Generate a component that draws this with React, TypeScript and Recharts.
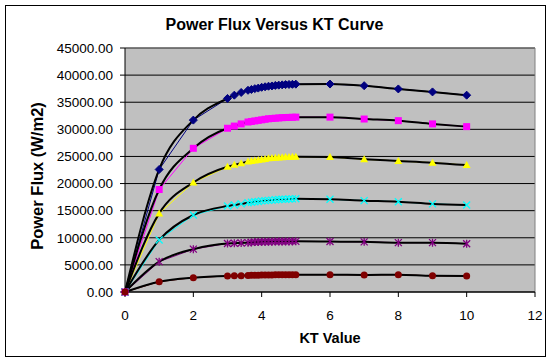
import { ComposedChart, Line, XAxis, YAxis, CartesianGrid, ReferenceLine } from 'recharts';

// #region Data (KT value vs power flux, W/m2)
const ktValues = [0, 1, 2, 3, 3.2, 3.4, 3.6, 3.7, 3.8, 3.9, 4, 4.1, 4.2, 4.3, 4.4, 4.5, 4.6, 4.7, 4.8, 4.9, 5, 6, 7, 8, 9, 10];

const navySeries = [0, 22600, 31700, 35700, 36300, 36800, 37200, 37350, 37500, 37600, 37750, 37850, 37950, 38000, 38100, 38150, 38200, 38250, 38280, 38300, 38330, 38350, 38050, 37450, 36900, 36300];
const magentaSeries = [0, 18900, 26500, 30200, 30600, 31000, 31350, 31450, 31550, 31650, 31750, 31850, 31950, 32000, 32050, 32100, 32150, 32180, 32200, 32220, 32250, 32250, 31900, 31600, 31000, 30500];
const yellowSeries = [0, 14500, 20200, 23100, 23450, 23750, 24050, 24150, 24250, 24350, 24450, 24550, 24650, 24700, 24750, 24800, 24850, 24880, 24900, 24930, 24950, 24900, 24480, 24170, 23850, 23400];
const cyanSeries = [0, 9600, 14200, 15850, 16050, 16250, 16450, 16550, 16650, 16700, 16800, 16850, 16900, 16950, 17000, 17050, 17100, 17120, 17150, 17170, 17200, 17100, 16850, 16650, 16250, 16050];
const purpleSeries = [0, 5600, 7900, 8950, 9000, 9050, 9100, 9150, 9200, 9220, 9250, 9260, 9280, 9290, 9300, 9310, 9320, 9320, 9330, 9330, 9340, 9300, 9250, 9100, 9100, 8900];
const maroonSeries = [0, 1900, 2650, 2950, 2980, 3000, 3050, 3070, 3080, 3100, 3120, 3130, 3140, 3150, 3160, 3170, 3180, 3180, 3190, 3190, 3200, 3200, 3150, 3200, 2980, 2950];

const xTicks = [0, 2, 4, 6, 8, 10, 12];
const yTicks = [0, 5000, 10000, 15000, 20000, 25000, 30000, 35000, 40000, 45000];
// #endregion

const series = [
  { key: 'navy', values: navySeries, color: '#000080', marker: 'diamond' },
  { key: 'magenta', values: magentaSeries, color: '#FF00FF', marker: 'square' },
  { key: 'yellow', values: yellowSeries, color: '#FFFF00', marker: 'triangle' },
  { key: 'cyan', values: cyanSeries, color: '#00FFFF', marker: 'cross' },
  { key: 'purple', values: purpleSeries, color: '#800080', marker: 'star' },
  { key: 'maroon', values: maroonSeries, color: '#800000', marker: 'circle' },
];

const rows = ktValues.map((kt, i) => {
  const row: Record<string, number> = { kt };
  series.forEach((s) => {
    row[s.key] = s.values[i];
  });
  return row;
});

const FONT = '"Liberation Sans", Arial, sans-serif';

function renderMarker(kind: string, color: string, p: any) {
  const { cx, cy, index } = p;
  const k = `${kind}-${index}`;
  if (cx == null || cy == null) return <g key={k} />;
  switch (kind) {
    case 'diamond':
      return <path key={k} d={`M${cx} ${cy - 4}L${cx + 4} ${cy}L${cx} ${cy + 4}L${cx - 4} ${cy}Z`} fill={color} stroke={color} />;
    case 'square':
      return <rect key={k} x={cx - 3.5} y={cy - 3.5} width={7} height={7} fill={color} />;
    case 'triangle':
      return <path key={k} d={`M${cx} ${cy - 4}L${cx + 4} ${cy + 3}L${cx - 4} ${cy + 3}Z`} fill={color} />;
    case 'cross':
      return (
        <path key={k} d={`M${cx - 3.5} ${cy - 3.5}L${cx + 3.5} ${cy + 3.5}M${cx + 3.5} ${cy - 3.5}L${cx - 3.5} ${cy + 3.5}`} stroke={color} strokeWidth={1.3} fill="none" />
      );
    case 'star':
      return (
        <path
          key={k}
          d={`M${cx - 3.5} ${cy - 3.5}L${cx + 3.5} ${cy + 3.5}M${cx + 3.5} ${cy - 3.5}L${cx - 3.5} ${cy + 3.5}M${cx} ${cy - 4}L${cx} ${cy + 4}`}
          stroke={color}
          strokeWidth={1.3}
          fill="none"
        />
      );
    default:
      return <circle key={k} cx={cx} cy={cy} r={3.5} fill={color} />;
  }
}

// rotated axis title; baseline sits on the right-hand side after the -90 turn
const renderYLabel = (props: any) => {
  const vb = props.viewBox || {};
  const x = 42.5;
  const y = (vb.y ?? 48) + (vb.height ?? 244) / 2 + 6;
  return (
    <text x={x} y={y} transform={`rotate(-90 ${x} ${y})`} textAnchor="middle" style={{ fontFamily: FONT, fontSize: 16.5, fontWeight: 'bold', fill: '#000' }}>
      Power Flux (W/m2)
    </text>
  );
};

export default function App() {
  return (
    <div style={{ position: 'absolute', left: 0, top: 0, width: 553, height: 362, background: '#fff' }}>
      <ComposedChart width={553} height={362} data={rows} margin={{ top: 48, right: 18, bottom: 0, left: 0 }}>
        <CartesianGrid horizontal vertical={false} stroke="#000" fill="#C0C0C0" fillOpacity={1} />
        <XAxis
          type="number"
          dataKey="kt"
          domain={[0, 12]}
          ticks={xTicks}
          height={70}
          axisLine={{ stroke: '#000' }}
          tickLine={{ stroke: '#000' }}
          tickSize={5}
          tickMargin={13}
          tick={{ fill: '#000', fontFamily: FONT, fontSize: 13.5 }}
          label={{ value: 'KT Value', position: 'insideBottom', offset: 19, style: { fontFamily: FONT, fontSize: 14.5, fontWeight: 'bold', fill: '#000' } }}
        />
        <YAxis
          type="number"
          domain={[0, 45000]}
          ticks={yTicks}
          width={125}
          axisLine={{ stroke: '#000' }}
          tickLine={{ stroke: '#000' }}
          tickSize={5}
          tickMargin={7}
          tickFormatter={(v: number) => v.toFixed(2)}
          tick={{ fill: '#000', fontFamily: FONT, fontSize: 13.5 }}
          label={{ content: renderYLabel }}
        />
        <ReferenceLine y={45000} stroke="#808080" />
        <ReferenceLine x={12} stroke="#808080" />
        {series.map((s) => (
          <Line
            key={s.key}
            type="linear"
            dataKey={s.key}
            stroke={s.color}
            strokeWidth={1}
            dot={(p: any) => renderMarker(s.marker, s.color, p)}
            activeDot={false}
            isAnimationActive={false}
          />
        ))}
        {series.map((s) => (
          <Line
            key={`trend-${s.key}`}
            type="monotone"
            dataKey={s.key}
            stroke="#000"
            strokeWidth={2}
            dot={false}
            activeDot={false}
            isAnimationActive={false}
          />
        ))}
      </ComposedChart>
      <div
        style={{
          position: 'absolute',
          left: 0,
          top: 17,
          width: 549,
          textAlign: 'center',
          fontFamily: FONT,
          fontSize: 16,
          lineHeight: '16px',
          fontWeight: 'bold',
          color: '#000',
          pointerEvents: 'none',
        }}
      >
        Power Flux Versus KT Curve
      </div>
      <div
        style={{
          position: 'absolute',
          left: 5,
          top: 5,
          width: 541,
          height: 352,
          boxSizing: 'border-box',
          border: '1px solid #000',
          pointerEvents: 'none',
        }}
      />
    </div>
  );
}
